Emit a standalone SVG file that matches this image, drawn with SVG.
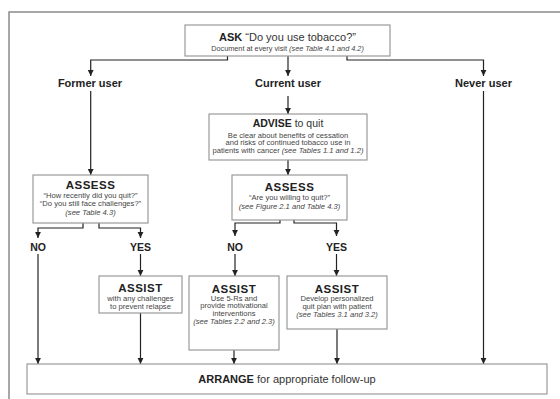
<svg xmlns="http://www.w3.org/2000/svg" width="560" height="399" viewBox="0 0 560 399">
<defs>
<marker id="arr" markerUnits="userSpaceOnUse" markerWidth="7" markerHeight="7" refX="6" refY="3.5" orient="auto">
<path d="M0,0.6 L6,3.5 L0,6.4 Z" fill="#222"/>
</marker>
<style>
.box{fill:#fff;stroke:#9a9a9a;stroke-width:1.2}
.frame{fill:none;stroke:#8a8a8a;stroke-width:1.5}
.con{fill:none;stroke:#222;stroke-width:1.2}
.arr{marker-end:url(#arr)}
text{font-family:"Liberation Sans",Arial,sans-serif;text-anchor:middle;fill:#333}
.h{font-size:11.5px;font-weight:bold;fill:#222;letter-spacing:0.5px}
.big{font-size:11px;fill:#333}
.adv{font-size:10.5px;fill:#333}
.lab{font-size:11px;font-weight:bold;fill:#222}
.yn{font-size:10.5px;font-weight:bold;fill:#222}
.s{font-size:7.6px;fill:#444}
.s2{font-size:7.3px;fill:#444}
.i{font-style:italic}
</style>
</defs>
<rect class="frame" x="9" y="12" width="600" height="450"/>

<g id="connectors">
<path class="con arr" d="M227.5,56 V60 H90.7 V76"/>
<path class="con arr" d="M288,56 V76"/>
<path class="con arr" d="M347,56 V60 H483.5 V76"/>
<path class="con arr" d="M90.7,91 V175"/>
<path class="con arr" d="M288,96 V114"/>
<path class="con arr" d="M483.5,91 V364"/>
<path class="con arr" d="M288,160 V175"/>
<path class="con arr" d="M83,223 V228 H38 V238"/>
<path class="con arr" d="M99,223 V228 H140.5 V238"/>
<path class="con arr" d="M280,220 V223 H235 V236"/>
<path class="con arr" d="M294,220 V223 H336.5 V236"/>
<path class="con arr" d="M38,254 V364"/>
<path class="con arr" d="M140.5,254 V276"/>
<path class="con arr" d="M235,254 V276"/>
<path class="con arr" d="M336.5,254 V276"/>
<path class="con arr" d="M140.5,313 V364"/>
<path class="con arr" d="M234,350 V364"/>
<path class="con arr" d="M337,329 V364"/>
</g>

<g id="ask">
<rect class="box" x="185" y="25" width="205" height="31"/>
<text class="big" x="287.5" y="41"><tspan font-weight="bold" fill="#222">ASK</tspan> “Do you use tobacco?”</text>
<text class="s2" x="287.5" y="50.5">Document at every visit <tspan class="i">(see Table 4.1 and 4.2)</tspan></text>
</g>

<g id="former"><text class="lab" x="90" y="87">Former user</text></g>
<g id="current"><text class="lab" x="288" y="87">Current user</text></g>
<g id="never"><text class="lab" x="483.5" y="87">Never user</text></g>

<g id="advise">
<rect class="box" x="209" y="114" width="158" height="46"/>
<text class="adv" x="288" y="127"><tspan font-weight="bold" fill="#222">ADVISE</tspan> to quit</text>
<text class="s" x="288" y="137.5">Be clear about benefits of cessation</text>
<text class="s" x="288" y="145.3">and risks of continued tobacco use in</text>
<text class="s" x="288" y="153.1">patients with cancer <tspan class="i">(see Tables 1.1 and 1.2)</tspan></text>
</g>

<g id="assess1">
<rect class="box" x="33" y="175" width="115" height="48"/>
<text class="h" x="90.5" y="189">ASSESS</text>
<text class="s" x="90.5" y="198">“How recently did you quit?”</text>
<text class="s" x="90.5" y="205.8">“Do you still face challenges?”</text>
<text class="s i" x="90.5" y="214.5">(see Table 4.3)</text>
</g>

<g id="assess2">
<rect class="box" x="232" y="175" width="115" height="45"/>
<text class="h" x="289.5" y="190.5">ASSESS</text>
<text class="s" x="289.5" y="200">“Are you willing to quit?”</text>
<text class="s i" x="289.5" y="208.5">(see Figure 2.1 and Table 4.3)</text>
</g>

<g id="no1"><text class="yn" x="38" y="250.5">NO</text></g>
<g id="yes1"><text class="yn" x="140.5" y="250.5">YES</text></g>
<g id="no2"><text class="yn" x="235" y="250.5">NO</text></g>
<g id="yes2"><text class="yn" x="336.5" y="250.5">YES</text></g>

<g id="assist1">
<rect class="box" x="99" y="276" width="83" height="37"/>
<text class="h" x="140.5" y="292">ASSIST</text>
<text class="s" x="140.5" y="300.5">with any challenges</text>
<text class="s" x="140.5" y="308.5">to prevent relapse</text>
</g>

<g id="assist2">
<rect class="box" x="189" y="276" width="90" height="74"/>
<text class="h" x="234" y="293">ASSIST</text>
<text class="s" x="234" y="300.5">Use 5-Rs and</text>
<text class="s" x="234" y="308.3">provide motivational</text>
<text class="s" x="234" y="316.1">interventions</text>
<text class="s i" x="234" y="323.9">(see Tables 2.2 and 2.3)</text>
</g>

<g id="assist3">
<rect class="box" x="287" y="276" width="100" height="53"/>
<text class="h" x="337" y="293">ASSIST</text>
<text class="s" x="337" y="301">Develop personalized</text>
<text class="s" x="337" y="308.8">quit plan with patient</text>
<text class="s i" x="337" y="316.6">(see Tables 3.1 and 3.2)</text>
</g>

<g id="arrange">
<rect class="box" x="27" y="364" width="520" height="30"/>
<text class="big" x="287" y="383"><tspan font-weight="bold" fill="#222">ARRANGE</tspan> for appropriate follow-up</text>
</g>
</svg>
